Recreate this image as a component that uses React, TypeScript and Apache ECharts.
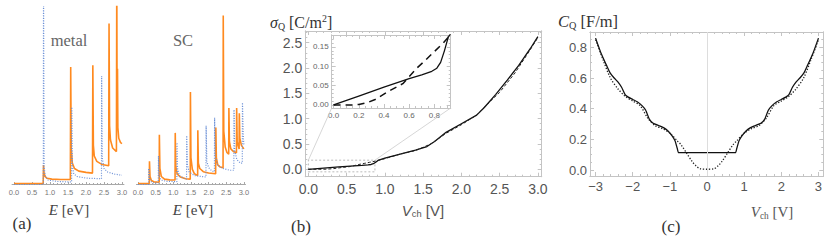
import React, { useEffect, useRef } from 'react';
import * as echarts from 'echarts';

// ---------- Panel (a): density of states, metal ----------
const metalOrangeE = [0, 0.81, 0.82, 0.83, 0.86, 0.92, 1.05, 1.3, 1.565, 1.575, 1.59, 1.62, 1.68, 1.8, 2.0, 2.18, 2.19, 2.205, 2.23, 2.3, 2.45, 2.63, 2.64, 2.655, 2.68, 2.74, 2.845, 2.855, 2.865, 2.875, 2.885, 2.91, 2.96, 3.0];
const metalOrangeD = [0.06, 0.06, 1.1, 0.7, 0.45, 0.35, 0.3, 0.28, 0.28, 6.6, 2.0, 1.2, 0.9, 0.75, 0.68, 0.64, 6.7, 2.2, 1.6, 1.3, 1.12, 1.05, 9.05, 3.3, 2.5, 2.05, 1.85, 12, 3.6, 6.5, 3.2, 2.6, 2.35, 2.3];
const metalBlueE = [0, 0.815, 0.82, 0.835, 0.87, 0.95, 1.2, 1.6, 1.605, 1.62, 1.66, 1.75, 2.0, 2.43, 2.435, 2.45, 2.5, 2.6, 2.8, 3.0];
const metalBlueD = [0, 0, 12, 1.0, 0.45, 0.25, 0.17, 0.14, 4.35, 1.1, 0.6, 0.45, 0.36, 0.32, 6.1, 1.5, 0.9, 0.7, 0.58, 0.52];

// ---------- Panel (a): density of states, semiconductor ----------
const scOrangeE = [0, 0.32, 0.325, 0.34, 0.38, 0.45, 0.6, 0.605, 0.62, 0.66, 0.75, 0.9, 1.05, 1.055, 1.07, 1.11, 1.2, 1.35, 1.48, 1.485, 1.5, 1.54, 1.6, 1.69, 1.695, 1.71, 1.75, 1.85, 2.0, 2.2, 2.205, 2.22, 2.26, 2.33, 2.41, 2.415, 2.43, 2.47, 2.52, 2.57, 2.575, 2.59, 2.63, 2.7, 2.79, 2.795, 2.81, 2.85, 2.865, 2.87, 2.885, 2.93, 3.0];
const scOrangeD = [0.06, 0.06, 1.3, 0.45, 0.22, 0.15, 0.13, 2.8, 0.9, 0.45, 0.3, 0.26, 0.25, 2.9, 1.0, 0.6, 0.42, 0.32, 0.3, 5.2, 1.5, 0.85, 0.6, 0.5, 3.05, 1.2, 0.9, 0.72, 0.65, 0.6, 3.2, 1.5, 1.1, 0.98, 0.94, 9.5, 3.0, 2.1, 1.8, 1.7, 4.3, 2.4, 2.0, 1.85, 1.78, 4.3, 2.4, 2.1, 2.0, 4.0, 2.6, 2.2, 2.0];
const scBlueE = [0, 0.3, 0.305, 0.33, 0.4, 0.575, 0.58, 0.6, 0.65, 0.8, 1.1, 1.105, 1.12, 1.17, 1.3, 1.375, 1.38, 1.4, 1.45, 1.6, 1.8, 1.925, 1.93, 1.95, 2.0, 2.1, 2.165, 2.17, 2.19, 2.25, 2.4, 2.6, 2.715, 2.72, 2.74, 2.8, 2.9, 2.955, 2.96, 2.98, 3.0];
const scBlueD = [0, 0, 0.9, 0.3, 0.1, 0.08, 1.6, 0.5, 0.25, 0.18, 0.16, 2.35, 0.9, 0.5, 0.35, 0.3, 2.75, 1.1, 0.7, 0.5, 0.45, 0.42, 3.3, 1.3, 0.95, 0.75, 0.72, 3.75, 1.6, 1.1, 0.9, 0.8, 0.8, 4.2, 1.9, 1.4, 1.2, 1.2, 4.6, 2.8, 2.2];
const eTickLabels = [0, 0.5, 1, 1.5, 2, 2.5, 3];

// ---------- Panel (b): quantum charge ----------
const sigmaSolidV = [0, 0.2, 0.4, 0.6, 0.7, 0.78, 0.82, 0.85, 0.88, 0.91, 1.0, 1.2, 1.4, 1.55, 1.65, 1.8, 2.0, 2.2, 2.3, 2.45, 2.6, 2.75, 2.9, 3.0];
const sigmaSolid = [0, 0.023, 0.046, 0.068, 0.078, 0.087, 0.095, 0.11, 0.14, 0.175, 0.22, 0.3, 0.38, 0.45, 0.55, 0.73, 0.9, 1.07, 1.22, 1.48, 1.76, 2.05, 2.38, 2.62];
const sigmaDashedV = [0, 0.15, 0.2, 0.27, 0.33, 0.43, 0.55, 0.66, 0.73, 0.8, 0.87, 0.91, 1.0, 1.2, 1.4, 1.6, 1.8, 2.0, 2.2, 2.35, 2.5, 2.7, 2.9, 3.0];
const sigmaDashed = [0, 0, 0.001, 0.006, 0.014, 0.034, 0.055, 0.095, 0.116, 0.138, 0.16, 0.175, 0.21, 0.3, 0.37, 0.5, 0.71, 0.88, 1.07, 1.3, 1.52, 1.9, 2.36, 2.6];
const vTicksB = [0, 0.5, 1, 1.5, 2, 2.5, 3];
const sigmaTicks = [0, 0.5, 1, 1.5, 2, 2.5];
const insetXTicks = [0, 0.2, 0.4, 0.6, 0.8];
const insetYTicks = [0, 0.05, 0.1, 0.15];
const zoomBox = [0, -0.05, 0.87, 0.18]; // x0, y0, x1, y1 of the zoomed region

// ---------- Panel (c): quantum capacitance ----------
const capSolidV = [-3, -2.85, -2.7, -2.6, -2.5, -2.4, -2.3, -2.2, -2.12, -2.0, -1.88, -1.75, -1.65, -1.55, -1.45, -1.3, -1.16, -1.05, -0.93, -0.86, -0.8, -0.76, 0, 0.76, 0.8, 0.86, 0.93, 1.05, 1.16, 1.3, 1.45, 1.55, 1.65, 1.75, 1.88, 2.0, 2.12, 2.2, 2.3, 2.4, 2.5, 2.6, 2.7, 2.85, 3.0];
const capSolid = [0.86, 0.76, 0.68, 0.63, 0.6, 0.575, 0.54, 0.49, 0.475, 0.46, 0.445, 0.42, 0.39, 0.33, 0.305, 0.29, 0.275, 0.255, 0.22, 0.19, 0.14, 0.113, 0.113, 0.113, 0.14, 0.19, 0.22, 0.255, 0.275, 0.29, 0.305, 0.33, 0.39, 0.42, 0.445, 0.46, 0.475, 0.49, 0.54, 0.575, 0.6, 0.63, 0.68, 0.76, 0.86];
const capDottedV = [-3, -2.8, -2.6, -2.4, -2.2, -2.0, -1.8, -1.6, -1.4, -1.2, -1.0, -0.8, -0.7, -0.55, -0.4, -0.3, -0.18, 0, 0.18, 0.3, 0.4, 0.55, 0.7, 0.8, 1.0, 1.2, 1.4, 1.6, 1.8, 2.0, 2.2, 2.4, 2.6, 2.8, 3.0];
const capDotted = [0.85, 0.72, 0.6, 0.53, 0.48, 0.45, 0.42, 0.34, 0.29, 0.27, 0.24, 0.19, 0.165, 0.11, 0.055, 0.028, 0.008, 0.005, 0.008, 0.028, 0.055, 0.11, 0.165, 0.19, 0.24, 0.27, 0.29, 0.34, 0.42, 0.45, 0.48, 0.53, 0.6, 0.72, 0.85];
const vTicksC = [-3, -2, -1, 0, 1, 2, 3];
const capTicks = [0, 0.2, 0.4, 0.6, 0.8];

// ---------- styling ----------
const ORANGE = '#ff8a1f';
const BLUE = '#6a8fd6';
const FRAME = '#c4c4c4';
const SERIF = "'Liberation Serif', 'DejaVu Serif', serif";
const SANS = "'Liberation Sans', Arial, sans-serif";

const zip = (a: number[], b: number[]) => a.map((x, i) => [x, b[i]]);
const steps = (a: number, b: number, s: number) => {
  const out: number[] = [];
  for (let k = 0; a + k * s <= b + 1e-9; k++) out.push(+(a + k * s).toFixed(4));
  return out;
};
const minus = (v: number) => (v < 0 ? '\u2212' + Math.abs(v) : String(v));

function buildOption() {
  const grids: any[] = [];
  const xAxes: any[] = [];
  const yAxes: any[] = [];

  const axis = (kind: 'x' | 'y', grid: number, pos: string, min: number, max: number, ticks: number[], len: number, color: string, labels?: number[], lab?: any) => {
    const a: any = {
      type: 'value', gridIndex: grid, position: pos, min, max,
      axisLine: { show: true, onZero: false, lineStyle: { color, width: 1 } },
      axisTick: { show: true, inside: true, length: len, customValues: ticks, lineStyle: { color, width: 1 } },
      axisLabel: labels ? { show: true, customValues: labels, ...lab } : { show: false },
      splitLine: { show: false },
    };
    (kind === 'x' ? xAxes : yAxes).push(a);
    return (kind === 'x' ? xAxes : yAxes).length - 1;
  };

  const frame = (grid: number, xr: number[], yr: number[], xMaj: number[], xMin: number[], yMaj: number[], yMin: number[], xLab: any, yLab: any) => {
    const xi = axis('x', grid, 'bottom', xr[0], xr[1], xMaj, 4, FRAME, xMaj, xLab);
    axis('x', grid, 'bottom', xr[0], xr[1], xMin, 2, FRAME);
    axis('x', grid, 'top', xr[0], xr[1], xMaj, 4, FRAME);
    axis('x', grid, 'top', xr[0], xr[1], xMin, 2, FRAME);
    const yi = axis('y', grid, 'left', yr[0], yr[1], yMaj, 4, FRAME, yMaj, yLab);
    axis('y', grid, 'left', yr[0], yr[1], yMin, 2, FRAME);
    axis('y', grid, 'right', yr[0], yr[1], yMaj, 4, FRAME);
    axis('y', grid, 'right', yr[0], yr[1], yMin, 2, FRAME);
    return [xi, yi];
  };

  // panel (a) grids
  grids.push({ left: 12.2, top: 6.5, width: 111.6, height: 178 });
  grids.push({ left: 136.6, top: 6.5, width: 108.7, height: 178 });
  const aLab = { fontSize: 7.5, color: '#777', fontFamily: SANS, margin: 4, formatter: (v: number) => v.toFixed(1) };
  const dosAxes = [0, 1].map((g) => {
    const xi = axis('x', g, 'bottom', g === 0 ? -0.05 : -0.04, g === 0 ? 3.05 : 3.04, eTickLabels, 2.5, '#a8a8a8', eTickLabels, aLab);
    axis('x', g, 'bottom', g === 0 ? -0.05 : -0.04, g === 0 ? 3.05 : 3.04, steps(0, 3, 0.1), 1.5, '#a8a8a8');
    yAxes.push({ type: 'value', gridIndex: g, min: 0, max: 10, show: false });
    return [xi, yAxes.length - 1];
  });

  // panel (b)
  grids.push({ left: 305.3, top: 31, width: 236.4, height: 145.7 });
  const bAx = frame(2, [-0.04, 3.05], [-0.146, 2.73], vTicksB, steps(0, 3, 0.1), sigmaTicks, steps(0, 2.7, 0.1),
    { fontSize: 14, color: '#555', fontFamily: SANS, margin: 5, formatter: (v: number) => v.toFixed(1) },
    { fontSize: 14, color: '#555', fontFamily: SANS, margin: 3, formatter: (v: number) => v.toFixed(1) });
  const INSET = { left: 331.7, top: 35, width: 119, height: 73 };
  grids.push({ ...INSET, show: true, backgroundColor: '#fff', borderWidth: 0 });
  const iAx = frame(3, [-0.015, 0.93], [-0.008, 0.181], insetXTicks, steps(0, 0.9, 0.05), insetYTicks, steps(0, 0.18, 0.01),
    { fontSize: 8, color: '#666', fontFamily: SANS, margin: 3, formatter: (v: number) => v.toFixed(1) },
    { fontSize: 8, color: '#666', fontFamily: SANS, margin: 3, formatter: (v: number) => v.toFixed(2) });

  // panel (c)
  grids.push({ left: 590, top: 32, width: 233.3, height: 144 });
  const cAx = frame(4, [-3.15, 3.13], [-0.039, 0.9], vTicksC, steps(-3, 3, 0.2), capTicks, steps(0, 0.9, 0.05),
    { fontSize: 13, color: '#555', fontFamily: SANS, margin: 4, formatter: minus },
    { fontSize: 13, color: '#555', fontFamily: SANS, margin: 3, formatter: (v: number) => v.toFixed(1) });

  const line = (ax: number[], data: number[][], ls: any, extra: any = {}) => ({
    type: 'line', xAxisIndex: ax[0], yAxisIndex: ax[1], data, symbol: 'none', silent: true,
    lineStyle: ls, ...extra,
  });

  const series: any[] = [
    line(dosAxes[0], zip(metalOrangeE, metalOrangeD), { color: ORANGE, width: 1.6 }),
    line(dosAxes[0], zip(metalBlueE, metalBlueD), { color: BLUE, width: 1.2, type: [1, 1.5] }),
    line(dosAxes[1], zip(scOrangeE, scOrangeD), { color: ORANGE, width: 1.6 }),
    line(dosAxes[1], zip(scBlueE, scBlueD), { color: BLUE, width: 1.2, type: [1, 1.5] }),
    line(bAx, zip(sigmaSolidV, sigmaSolid), { color: '#111', width: 1.3 }, {
      markArea: {
        silent: true,
        itemStyle: { color: 'rgba(0,0,0,0)', borderColor: '#aaa', borderWidth: 0.8, borderType: [2, 2] },
        data: [[{ coord: [zoomBox[0], zoomBox[1]] }, { coord: [zoomBox[2], zoomBox[3]] }]],
      },
      markLine: {
        silent: true, symbol: ['none', 'none'], label: { show: false },
        lineStyle: { color: '#ccc', width: 0.8, type: 'solid' },
        data: [
          [{ coord: [zoomBox[0], zoomBox[3]] }, { x: INSET.left, y: INSET.top + INSET.height }],
          [{ coord: [zoomBox[2], zoomBox[3]] }, { x: INSET.left + INSET.width, y: INSET.top + INSET.height }],
        ],
      },
    }),
    line(bAx, zip(sigmaDashedV, sigmaDashed), { color: '#222', width: 1, type: [3, 2] }),
    line(iAx, zip(sigmaSolidV, sigmaSolid), { color: '#111', width: 1.3 }),
    line(iAx, zip(sigmaDashedV, sigmaDashed), { color: '#111', width: 1.5, type: [7, 5] }),
    line(cAx, zip(capSolidV, capSolid), { color: '#111', width: 1.3 }, {
      smooth: 0.2,
      markLine: {
        silent: true, symbol: ['none', 'none'], label: { show: false },
        lineStyle: { color: '#ddd', width: 1, type: 'solid' },
        data: [{ xAxis: 0 }],
      },
    }),
    line(cAx, zip(capDottedV, capDotted), { color: '#222', width: 1.3, type: [1.3, 1.7] }, { smooth: 0.3 }),
  ];

  const txt = (x: number, y: number, text: string, size: number, family: string, fill: string, align = 'center', extra: any = {}) => ({
    type: 'text', x, y, silent: true,
    style: { text, fontSize: size, fontFamily: family, fill, textAlign: align, textVerticalAlign: 'middle', ...extra },
  });
  const rich = (x: number, y: number, text: string, size: number, family: string, fill: string, align = 'center') => ({
    type: 'text', x, y, silent: true,
    style: {
      text, fill, textAlign: align, textVerticalAlign: 'middle', fontFamily: family, fontSize: size,
      rich: {
        i: { fontStyle: 'italic', fontSize: size, fontFamily: family, fill, lineHeight: size + 2 },
        n: { fontSize: size, fontFamily: family, fill, lineHeight: size + 2 },
        sub: { fontSize: size * 0.62, fontFamily: family, fill, lineHeight: size * 0.62, verticalAlign: 'bottom' },
        sup: { fontSize: size * 0.62, fontFamily: family, fill, lineHeight: size * 0.62, verticalAlign: 'top' },
      },
    },
  });

  const graphic: any[] = [
    txt(69, 40, 'metal', 16.5, SERIF, '#666'),
    txt(183, 40, 'SC', 16.5, SERIF, '#666'),
    rich(69, 210, '{i|E}{n| [eV]}', 15, SERIF, '#444'),
    rich(193, 210, '{i|E}{n| [eV]}', 15, SERIF, '#444'),
    txt(22, 223, '(a)', 17, SERIF, '#333'),
    rich(270, 22, '{i|σ}{sub|Q}{n| [C/m}{sup|2}{n|]}', 16, SERIF, '#333', 'left'),
    rich(423, 210, '{i|V}{sub|ch}{n| [V]}', 15, SANS, '#555'),
    txt(301, 226, '(b)', 17, SERIF, '#333'),
    rich(558, 21, '{i|C}{sub|Q}{n| [F/m]}', 16.5, SERIF, '#333', 'left'),
    rich(772, 212, '{i|V}{sub|ch}{n| [V]}', 15, SERIF, '#555'),
    txt(671, 226, '(c)', 17, SERIF, '#333'),
  ];

  return {
    animation: false,
    backgroundColor: '#fff',
    grid: grids,
    xAxis: xAxes,
    yAxis: yAxes,
    series,
    graphic,
  };
}

export default function App() {
  const ref = useRef<HTMLDivElement>(null);
  useEffect(() => {
    if (!ref.current) return;
    const chart = echarts.init(ref.current, undefined, { renderer: 'svg' });
    chart.setOption(buildOption() as any);
    return () => chart.dispose();
  }, []);
  return <div ref={ref} style={{ position: 'absolute', left: 0, top: 0, width: 830, height: 241 }} />;
}
